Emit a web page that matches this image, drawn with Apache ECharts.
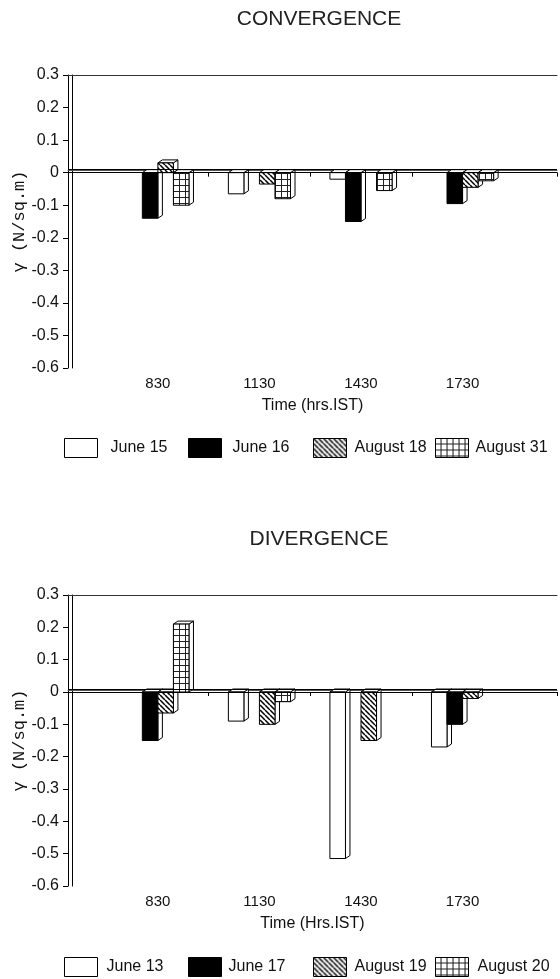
<!DOCTYPE html>
<html>
<head>
<meta charset="utf-8">
<script src="https://cdn.jsdelivr.net/npm/echarts@6/dist/echarts.min.js"></script>
<style>
  html, body { margin: 0; padding: 0; background: #fff; }
  #chart { width: 560px; height: 979px; }
</style>
</head>
<body>
<div id="chart"></div>
<script>
// Observation times (hrs IST)
const times = ['830', '1130', '1430', '1730'];

// Wind stress, convergence days (N/sq.m)
const convNames = ['June 15', 'June 16', 'August 18', 'August 31'];
const june15 = [0, -0.065, -0.02, 0];
const june16 = [-0.14, 0, -0.15, -0.095];
const aug18 = [0.03, -0.035, 0, -0.045];
const aug31 = [-0.1, -0.08, -0.055, -0.025];

// Wind stress, divergence days (N/sq.m)
const divNames = ['June 13', 'June 17', 'August 19', 'August 20'];
const june13 = [0, -0.09, -0.515, -0.17];
const june17 = [-0.15, 0, 0, -0.1];
const aug19 = [-0.065, -0.1, -0.15, -0.02];
const aug20 = [0.21, -0.03, 0, 0];

const yTicks = { min: -0.6, max: 0.3, step: 0.1 };

const FONT = 'Liberation Sans, Arial, sans-serif';

// Fill patterns drawn on small tiles
function hatchTile() {
  const s = 5;
  const c = document.createElement('canvas');
  c.width = s; c.height = s;
  const g = c.getContext('2d');
  g.fillStyle = '#fff'; g.fillRect(0, 0, s, s);
  g.strokeStyle = '#000'; g.lineWidth = 1.5;
  g.beginPath();
  for (const k of [-s, 0, s]) { g.moveTo(k, 0); g.lineTo(k + s, s); }
  g.stroke();
  return { image: c, repeat: 'repeat' };
}
function gridTile() {
  const s = 6;
  const c = document.createElement('canvas');
  c.width = s; c.height = s;
  const g = c.getContext('2d');
  g.fillStyle = '#fff'; g.fillRect(0, 0, s, s);
  g.strokeStyle = '#222'; g.lineWidth = 1;
  g.beginPath();
  g.moveTo(s - 0.5, 0); g.lineTo(s - 0.5, s);
  g.moveTo(0, s - 0.5); g.lineTo(s, s - 0.5);
  g.stroke();
  return { image: c, repeat: 'repeat' };
}
const fills = ['#fff', '#000', hatchTile(), gridTile()];

// 3-D style column: front face, right side face, top face
function columnRenderer(slot, fill) {
  return function (params, api) {
    const v = api.value(1);
    if (!v) return { type: 'group', children: [] };
    const ci = api.value(0);
    const base = api.coord([ci, 0]);
    const end = api.coord([ci, v]);
    const unit = api.size([1, 0])[0];
    const w = unit * 0.153;
    const x = base[0] - 2 * w + slot * w;
    const yTop = Math.min(base[1], end[1]);
    const yBot = Math.max(base[1], end[1]);
    const dx = 4.5, dy = 3;
    const edge = { stroke: '#000', lineWidth: 1 };
    return {
      type: 'group',
      children: [
        { type: 'polygon', shape: { points: [[x + w, yTop], [x + w + dx, yTop - dy], [x + w + dx, yBot - dy], [x + w, yBot]] },
          style: Object.assign({ fill: '#fff' }, edge) },
        { type: 'polygon', shape: { points: [[x, yTop], [x + dx, yTop - dy], [x + w + dx, yTop - dy], [x + w, yTop]] },
          style: Object.assign({ fill: '#fff' }, edge) },
        { type: 'rect', shape: { x: x, y: yTop, width: w, height: yBot - yTop },
          style: Object.assign({ fill: fill }, edge) }
      ]
    };
  };
}

const xMin = -0.885, xMax = 3.93;

function timeAxes(gridIndex, axisName, gap) {
  return [
    {
      gridIndex, type: 'value', min: xMin, max: xMax, position: 'bottom',
      axisLine: { show: true, lineStyle: { color: '#000', width: 1, shadowColor: '#555', shadowOffsetY: -2 } },
      axisTick: { show: true, length: 4, customValues: [xMin, 0.5, 1.5, 2.5, xMax], lineStyle: { color: '#000' } },
      axisLabel: { show: true, customValues: [0, 1, 2, 3], formatter: v => times[Math.round(v)],
        color: '#111', fontSize: 15, fontFamily: FONT, margin: 8 },
      splitLine: { show: false },
      name: axisName, nameLocation: 'middle', nameGap: gap, nameMoveOverlap: false,
      nameTextStyle: { color: '#111', fontSize: 16, fontFamily: FONT }
    },
    {
      gridIndex, type: 'value', min: xMin, max: xMax, position: 'top',
      axisLine: { show: true, lineStyle: { color: '#333', width: 1 } },
      axisTick: { show: false }, axisLabel: { show: false }, splitLine: { show: false }
    }
  ];
}

function stressAxis(gridIndex) {
  return {
    gridIndex, type: 'value', min: yTicks.min, max: yTicks.max, interval: yTicks.step,
    axisLine: { show: true, onZero: false, lineStyle: { color: '#000', width: 1, shadowColor: '#000', shadowOffsetX: 4 } },
    axisTick: { show: true, length: 5, lineStyle: { color: '#000' } },
    axisLabel: { color: '#111', fontSize: 16, fontFamily: FONT, margin: 9 },
    splitLine: { show: false },
    name: 'γ (N/sq.m)', nameLocation: 'middle', nameGap: 40, nameRotate: 90, nameMoveOverlap: false,
    nameTextStyle: { color: '#111', fontSize: 17, fontFamily: 'Liberation Mono, monospace' }
  };
}

function columns(names, arrays, xAxisIndex, yAxisIndex) {
  return arrays.map((arr, k) => {
    const s = {
      type: 'custom', name: names[k], xAxisIndex, yAxisIndex,
      data: arr.map((v, i) => [i, v]),
      encode: { x: 0, y: 1 },
      itemStyle: { color: fills[k], borderColor: '#000', borderWidth: 1 },
      renderItem: columnRenderer(k, fills[k]),
      silent: true
    };
    if (k === 0) {
      // floor line at zero
      s.markLine = {
        silent: true, symbol: 'none', label: { show: false }, animation: false,
        lineStyle: { color: '#000', width: 1, type: 'solid', shadowColor: '#000', shadowOffsetY: -3 },
        data: [{ yAxis: 0 }]
      };
    }
    return s;
  });
}

function legends(names, top, lefts, pads) {
  return names.map((n, k) => ({
    data: [n], left: lefts[k], top: top, orient: 'horizontal', padding: 0,
    icon: 'rect', itemWidth: 33, itemHeight: 19, itemGap: 0, selectedMode: false,
    itemStyle: { borderColor: '#000', borderWidth: 1 },
    textStyle: { color: '#111', fontSize: 16, fontFamily: FONT, padding: [0, 0, 0, pads[k]] }
  }));
}

const chart = echarts.init(document.getElementById('chart'), null, { renderer: 'canvas' });
chart.setOption({
  animation: false,
  backgroundColor: '#fff',
  title: [
    { text: 'CONVERGENCE', left: 314, textAlign: 'center', top: 4,
      textStyle: { fontSize: 21, fontWeight: 'normal', color: '#222', fontFamily: FONT } },
    { text: 'DIVERGENCE', left: 314, textAlign: 'center', top: 524,
      textStyle: { fontSize: 21, fontWeight: 'normal', color: '#222', fontFamily: FONT } }
  ],
  grid: [
    { left: 68, right: 3, top: 75, height: 293, outerBoundsMode: 'none', containLabel: false },
    { left: 68, right: 3, top: 595, height: 291, outerBoundsMode: 'none', containLabel: false }
  ],
  xAxis: timeAxes(0, 'Time (hrs.IST)', 30).concat(timeAxes(1, 'Time (Hrs.IST)', 30)),
  yAxis: [stressAxis(0), stressAxis(1)],
  legend: legends(convNames, 438, [64, 188, 313, 435], [8, 6, 3, 2])
    .concat(legends(divNames, 957, [64, 188, 313, 435], [4, 2, 3, 4])),
  series: columns(convNames, [june15, june16, aug18, aug31], 0, 0)
    .concat(columns(divNames, [june13, june17, aug19, aug20], 2, 1))
});
</script>
</body>
</html>
